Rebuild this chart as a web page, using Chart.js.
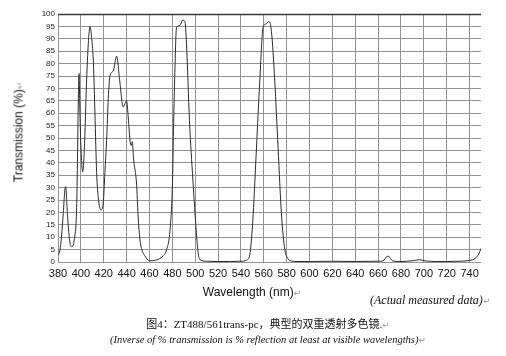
<!DOCTYPE html>
<html><head><meta charset="utf-8">
<script src="https://cdn.jsdelivr.net/npm/chart.js@4/dist/chart.umd.min.js"></script>
<style>
html,body{margin:0;padding:0;background:#fff;width:506px;height:356px;overflow:hidden;}
#wrap{position:relative;width:506px;height:356px;background:#fff;}
canvas{position:absolute;left:0;top:0;}
.t{position:absolute;white-space:nowrap;color:#111;line-height:14px;}
.pm{color:#9a9a9a;font-size:9px;font-style:normal;font-family:'DejaVu Sans';}
</style></head><body>
<div id="wrap">
<canvas id="c" width="506" height="356"></canvas>
<div class="t" style="font-family:'Liberation Sans',Arial,sans-serif;font-size:12px;left:19px;top:132px;transform:translate(-50%,-50%) rotate(-90deg);">Transmission (%)<span class="pm">↵</span></div>
<div class="t" style="font-family:'Liberation Sans',Arial,sans-serif;font-size:12px;left:252px;top:285px;transform:translateX(-50%);">Wavelength (nm)<span class="pm">↵</span></div>
<div class="t" style="font-family:'Liberation Serif',serif;font-style:italic;font-size:12px;left:370px;top:293px;">(Actual measured data)<span class="pm">↵</span></div>
<div class="t" style="font-family:'Liberation Serif','Noto Sans CJK SC',serif;font-size:11px;left:268px;top:317px;transform:translateX(-50%);">图4：ZT488/561trans-pc，典型的双重透射多色镜.<span class="pm">↵</span></div>
<div class="t" style="font-family:'Liberation Serif',serif;font-style:italic;font-size:10.5px;left:268px;top:333px;transform:translateX(-50%);">(Inverse of % transmission is % reflection at least at visible wavelengths)<span class="pm">↵</span></div>
</div>
<script>
// Data
const wavelengths = [380, 381.7, 383, 384.6, 386, 386.7, 388.4, 390.5, 392, 394.2, 396.3, 397, 397.8, 398.4, 399.2, 400, 401.6, 403, 405, 406.5, 408, 409.5, 411, 412.3, 413.8, 415.2, 417.6, 419.6, 421, 422.5, 424, 425.4, 428.3, 431.3, 434, 437, 440, 441.5, 443, 444, 445, 446, 448.8, 450, 451.7, 453, 456, 460, 466, 472, 475, 478, 480.2, 481, 482, 483.7, 486.6, 489, 491, 492.4, 495, 498, 501, 502.5, 504, 510, 520, 530, 540, 545, 547.8, 549, 550.7, 553.6, 556.5, 559.4, 562, 564.6, 566.7, 569.6, 572.5, 575.5, 578.4, 581, 584, 590, 600, 620, 640, 660, 664, 668.6, 673, 680, 690, 696, 702, 710, 720, 730, 740, 745, 748, 750];
const transmission = [2.8, 4.8, 10, 19.6, 29, 30.4, 18, 7.6, 6.2, 8.9, 22, 40, 66, 76, 60, 47, 36.4, 45, 73, 88, 95, 90, 80, 60, 36, 26, 21, 23.8, 36, 49, 66, 75, 77, 83, 73, 62.5, 65, 58, 49, 47, 48.5, 42, 31, 19, 9, 5.5, 2.5, 0.5, 0.8, 2.5, 5, 13, 33, 53, 73, 94.6, 95.3, 97.5, 97, 88, 57, 33, 12, 4, 1, 0.3, 0.2, 0.2, 0.3, 0.8, 3, 8, 19, 46, 73, 94.6, 96, 97, 93, 73, 46, 19, 5, 1.5, 0.4, 0.2, 0.2, 0.3, 0.2, 0.3, 0.4, 2.4, 0.4, 0.2, 0.5, 0.9, 0.4, 0.2, 0.2, 0.3, 0.6, 1.5, 3.2, 5.5];
const xRange = [380, 750];
const xStep = 20;
const yRange = [0, 100];
const yStep = 5;

const points = wavelengths.map((w, i) => ({x: w, y: transmission[i]}));

const topLine = {
  id: 'topLine',
  afterDraw(chart) {
    const {ctx, chartArea} = chart;
    ctx.save();
    ctx.strokeStyle = '#3a3a3a';
    ctx.lineWidth = 1.5;
    ctx.beginPath();
    ctx.moveTo(chartArea.left, chartArea.top + 0.5);
    ctx.lineTo(chartArea.right, chartArea.top + 0.5);
    ctx.stroke();
    ctx.restore();
  }
};

new Chart(document.getElementById('c'), {
  type: 'scatter',
  data: {
    datasets: [{
      data: points,
      showLine: true,
      pointRadius: 0,
      borderColor: '#2a2a2a',
      borderWidth: 1,
      cubicInterpolationMode: 'monotone',
      fill: false
    }]
  },
  options: {
    responsive: false,
    animation: false,
    layout: {padding: {top: 14, right: 25, bottom: 0, left: 0}},
    plugins: {legend: {display: false}, tooltip: {enabled: false}},
    scales: {
      x: {
        type: 'linear',
        min: xRange[0], max: xRange[1],
        afterFit(s) { s.height = 94; },
        ticks: {stepSize: xStep, includeBounds: false, autoSkip: false, maxRotation: 0, padding: 5,
          color: '#111', font: {family: "'Liberation Sans', Arial, sans-serif", size: 11}},
        grid: {color: '#939393', lineWidth: 1, drawTicks: false},
        border: {display: false}
      },
      y: {
        min: yRange[0], max: yRange[1],
        afterFit(s) { s.width = 58; },
        ticks: {stepSize: yStep, autoSkip: false, padding: 3, color: '#222',
          font: {family: "'Liberation Sans', Arial, sans-serif", size: 8}},
        grid: {color: '#939393', lineWidth: 1, drawTicks: false},
        border: {display: false}
      }
    }
  },
  plugins: [topLine]
});
</script>
</body></html>
